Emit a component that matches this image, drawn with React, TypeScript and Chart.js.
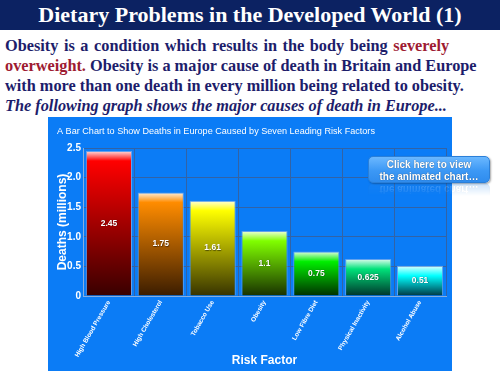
import React, { useEffect, useRef } from "react";
import { Chart, registerables } from "chart.js";

Chart.register(...registerables);

const chartTitle = "A Bar Chart to Show Deaths in Europe Caused by Seven Leading Risk Factors";
const categories = [
  "High Blood Pressure",
  "High Cholesterol",
  "Tobacco Use",
  "Obesity",
  "Low Fibre Diet",
  "Physical Inactivity",
  "Alcohol Abuse",
];
const deaths = [2.45, 1.75, 1.61, 1.1, 0.75, 0.625, 0.51];
const valueLabels = ["2.45", "1.75", "1.61", "1.1", "0.75", "0.625", "0.51"];
const yMin = 0;
const yMax = 2.5;
const yStep = 0.5;
const topColors = ["#ff0000", "#ff8c00", "#ffff00", "#80ff00", "#00ee00", "#00e27a", "#00ffff"];
const bottomColors = ["#380000", "#3a1c00", "#363200", "#183000", "#002e00", "#00322a", "#003542"];

const FONT = "'Liberation Sans', Arial, sans-serif";
const SERIF = "'Liberation Serif', 'Times New Roman', serif";

function mixWhite(hex: string, t: number): string {
  const n = parseInt(hex.slice(1), 16);
  const r = (n >> 16) & 255, g = (n >> 8) & 255, b = n & 255;
  const m = (c: number) => Math.round(c + (255 - c) * t);
  return `rgb(${m(r)},${m(g)},${m(b)})`;
}

const valueLabelPlugin = {
  id: "valueLabels",
  afterDatasetsDraw(chart: any) {
    const ctx = chart.ctx;
    const meta = chart.getDatasetMeta(0);
    ctx.save();
    ctx.font = `bold 8.5px ${FONT}`;
    ctx.fillStyle = "#ffffff";
    ctx.textAlign = "center";
    ctx.textBaseline = "middle";
    ctx.shadowColor = "rgba(0,0,0,0.5)";
    ctx.shadowBlur = 1;
    ctx.shadowOffsetX = 0.5;
    ctx.shadowOffsetY = 0.5;
    meta.data.forEach((el: any, i: number) => {
      ctx.fillText(valueLabels[i], el.x, (el.y + el.base) / 2);
    });
    ctx.restore();
  },
  afterDraw(chart: any) {
    const ctx = chart.ctx;
    ctx.save();
    ctx.font = `9.1px ${FONT}`;
    ctx.fillStyle = "#ffffff";
    ctx.textAlign = "left";
    ctx.textBaseline = "middle";
    ctx.fillText(chartTitle, 9, 14);
    ctx.restore();
  },
};

function BarChart() {
  const ref = useRef<HTMLCanvasElement | null>(null);
  useEffect(() => {
    if (!ref.current) return;
    const chart = new Chart(ref.current, {
      type: "bar",
      data: {
        labels: categories,
        datasets: [
          {
            data: deaths,
            backgroundColor: (c: any) => {
              const i = c.dataIndex;
              const chartObj = c.chart;
              const y = chartObj.scales && chartObj.scales.y;
              if (i == null || !y) return topColors[0];
              const top = y.getPixelForValue(deaths[i]);
              const base = y.getPixelForValue(0);
              if (!isFinite(top) || !isFinite(base) || base - top <= 0) return topColors[i];
              const g = chartObj.ctx.createLinearGradient(0, top, 0, base);
              const h = Math.min(0.4, 10 / (base - top));
              g.addColorStop(0, mixWhite(topColors[i], 0.88));
              g.addColorStop(h, topColors[i]);
              g.addColorStop(1, bottomColors[i]);
              return g;
            },
            borderColor: "rgba(120,170,235,0.8)",
            borderWidth: 1,
            categoryPercentage: 1,
            barPercentage: 0.89,
          },
        ],
      },
      options: {
        responsive: false,
        maintainAspectRatio: false,
        animation: false,
        layout: { padding: { top: 31, right: 6, left: 0, bottom: 0 } },
        plugins: {
          legend: { display: false },
          title: { display: false },
          tooltip: { enabled: false },
        },
        scales: {
          x: {
            afterFit: (s: any) => {
              s.height = 75;
            },
            grid: { color: "#3263a6", offset: true, drawTicks: false, lineWidth: 1 },
            border: { color: "#86aee0", width: 1 },
            ticks: {
              autoSkip: false,
              maxRotation: 60,
              minRotation: 60,
              padding: 3,
              color: "#ffffff",
              font: { family: FONT, size: 6.5, weight: "bold" },
            },
            title: {
              display: true,
              text: "Risk Factor",
              color: "#ffffff",
              font: { family: FONT, size: 12, weight: "bold" },
              padding: { top: 0, bottom: 3 },
            },
          },
          y: {
            min: yMin,
            max: yMax,
            afterFit: (s: any) => {
              s.width = 35;
            },
            grid: { color: "#3263a6", drawTicks: false, lineWidth: 1 },
            border: { color: "#86aee0", width: 1 },
            ticks: {
              stepSize: yStep,
              padding: 2,
              color: "#ffffff",
              font: { family: FONT, size: 10, weight: "bold" },
            },
            title: {
              display: true,
              text: "Deaths (millions)",
              color: "#ffffff",
              font: { family: FONT, size: 12, weight: "bold" },
              padding: { top: 7, bottom: 0 },
            },
          },
        },
      },
      plugins: [valueLabelPlugin],
    } as any);
    return () => chart.destroy();
  }, []);
  return <canvas ref={ref} width={404} height={254} style={{ display: "block", width: 404, height: 254 }} />;
}

const buttonInner = (
  <>
    <div>Click here to view</div>
    <div>the animated chart…</div>
  </>
);

const buttonStyle: React.CSSProperties = {
  position: "absolute",
  left: 0,
  top: 0,
  width: 122,
  height: 27,
  boxSizing: "border-box",
  borderRadius: 5,
  background: "linear-gradient(#6bb8ff, #3c98f5 55%, #2f8cee)",
  border: "1px solid #2b7fd8",
  color: "#ffffff",
  fontFamily: FONT,
  fontWeight: "bold",
  fontSize: 10,
  lineHeight: "11.5px",
  textAlign: "center",
  paddingTop: 2,
  textShadow: "0 0 1px rgba(0,0,0,0.6)",
  whiteSpace: "nowrap",
};

export default function App() {
  return (
    <div
      style={{
        position: "absolute",
        left: 0,
        top: 0,
        width: 500,
        height: 375,
        overflow: "hidden",
        background: "#ffffff",
      }}
    >
      <div
        style={{
          position: "absolute",
          left: 0,
          top: 0,
          width: 500,
          height: 30,
          background: "#0c2262",
          color: "#ffffff",
          fontFamily: SERIF,
          fontWeight: "bold",
          fontSize: 22,
          lineHeight: "30px",
          textAlign: "center",
          whiteSpace: "nowrap",
        }}
      >
        Dietary Problems in the Developed World (1)
      </div>
      <div
        style={{
          position: "absolute",
          left: 5,
          top: 36,
          fontFamily: SERIF,
          fontWeight: "bold",
          fontSize: 16.3,
          lineHeight: "20px",
          color: "#1d1d6b",
          whiteSpace: "nowrap",
        }}
      >
        <div style={{ wordSpacing: 1.5 }}>
          Obesity is a condition which results in the body being{" "}
          <span style={{ color: "#9e1b32" }}>severely</span>
        </div>
        <div>
          <span style={{ color: "#9e1b32" }}>overweight.</span> Obesity is a major cause of death in Britain and Europe
        </div>
        <div>with more than one death in every million being related to obesity.</div>
        <div style={{ fontStyle: "italic" }}>The following graph shows the major causes of death in Europe...</div>
      </div>
      <div
        style={{
          position: "absolute",
          left: 48,
          top: 117,
          width: 404,
          height: 254,
          background: "#0b7cf6",
        }}
      >
        <BarChart />
      </div>
      <div style={{ position: "absolute", left: 368, top: 156, width: 124, height: 30 }}>
        <div style={{ ...buttonStyle, boxShadow: "1px 1px 2px rgba(0,0,0,0.35)" }}>{buttonInner}</div>
      </div>
      <div
        style={{
          position: "absolute",
          left: 368,
          top: 183,
          width: 124,
          height: 13,
          overflow: "hidden",
          opacity: 0.25,
          WebkitMaskImage: "linear-gradient(rgba(0,0,0,1), rgba(0,0,0,0))",
          maskImage: "linear-gradient(rgba(0,0,0,1), rgba(0,0,0,0))",
        }}
      >
        <div style={{ position: "absolute", left: 0, top: 0, width: 122, height: 27, transform: "scaleY(-1)", transformOrigin: "50% 0" }}>
          <div style={{ ...buttonStyle, top: -27 }}>{buttonInner}</div>
        </div>
      </div>
    </div>
  );
}
